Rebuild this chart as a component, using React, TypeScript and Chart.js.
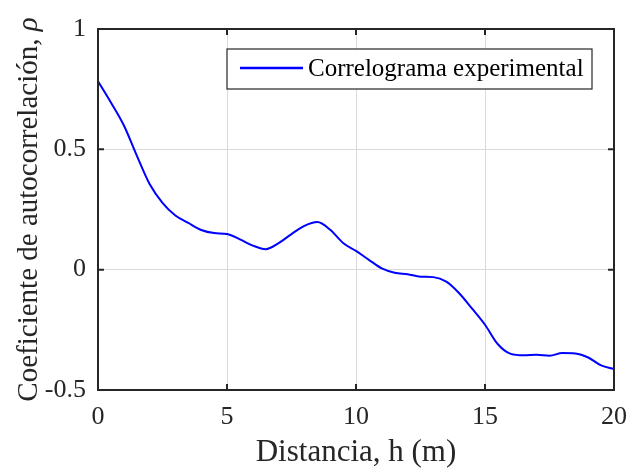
import React, { useEffect, useRef } from "react";
import { Chart, registerables } from "chart.js";

Chart.register(...registerables);

const distances = [0, 0.5, 1, 1.5, 2, 2.5, 3, 3.5, 4, 4.5, 5, 5.5, 6, 6.5, 7, 7.5, 8, 8.5, 9, 9.5, 10, 10.5, 11, 11.5, 12, 12.5, 13, 13.5, 14, 14.5, 15, 15.5, 16, 16.5, 17, 17.5, 18, 18.5, 19, 19.5, 20];
const correlation = [0.783, 0.695, 0.6, 0.475, 0.356, 0.278, 0.225, 0.194, 0.165, 0.152, 0.148, 0.126, 0.1, 0.085, 0.11, 0.148, 0.182, 0.198, 0.166, 0.111, 0.078, 0.041, 0.005, -0.013, -0.019, -0.029, -0.031, -0.05, -0.098, -0.162, -0.229, -0.31, -0.35, -0.356, -0.354, -0.358, -0.346, -0.348, -0.365, -0.398, -0.413];
const xTicks = [0, 5, 10, 15, 20];
const yTicks = [-0.5, 0, 0.5, 1];
const seriesLabel = "Correlograma experimental";
const xTitle = "Distancia, h (m)";
const yTitleMain = "Coeficiente de autocorrelación, ";
const yTitleSymbol = "ρ";

const FONT = "'Liberation Serif', 'Times New Roman', serif";
const AXIS = "#262626";

const decorPlugin = {
  id: "decor",
  afterDatasetsDraw(chart: any) {
    const { ctx, chartArea } = chart;
    const { left, right, top, bottom } = chartArea;
    const xs = chart.scales.x;
    const ys = chart.scales.y;
    ctx.save();
    // box
    ctx.strokeStyle = AXIS;
    ctx.lineWidth = 2;
    ctx.strokeRect(left, top, right - left, bottom - top);
    // inward ticks
    const tl = 6;
    ctx.beginPath();
    xTicks.forEach((v) => {
      const px = xs.getPixelForValue(v);
      ctx.moveTo(px, bottom);
      ctx.lineTo(px, bottom - tl);
      ctx.moveTo(px, top);
      ctx.lineTo(px, top + tl);
    });
    yTicks.forEach((v) => {
      const py = ys.getPixelForValue(v);
      ctx.moveTo(left, py);
      ctx.lineTo(left + tl, py);
      ctx.moveTo(right, py);
      ctx.lineTo(right - tl, py);
    });
    ctx.stroke();

    // legend
    const lx = 227, ly = 49, lw = 365, lh = 40;
    ctx.fillStyle = "#ffffff";
    ctx.fillRect(lx, ly, lw, lh);
    ctx.strokeStyle = AXIS;
    ctx.lineWidth = 1.2;
    ctx.strokeRect(lx, ly, lw, lh);
    const ds = chart.data.datasets[0];
    ctx.strokeStyle = ds.borderColor;
    ctx.lineWidth = 2.5;
    ctx.beginPath();
    ctx.moveTo(lx + 13, ly + 19);
    ctx.lineTo(lx + 76, ly + 19);
    ctx.stroke();
    ctx.fillStyle = "#000000";
    ctx.font = `25px ${FONT}`;
    ctx.textBaseline = "alphabetic";
    ctx.textAlign = "left";
    ctx.fillText(ds.label, lx + 81, ly + 27);

    // x title
    ctx.fillStyle = AXIS;
    ctx.font = `31px ${FONT}`;
    ctx.textAlign = "center";
    ctx.fillText(xTitle, (left + right) / 2, 461);

    // y title
    ctx.translate(37, (top + bottom) / 2);
    ctx.rotate(-Math.PI / 2);
    ctx.font = `29px ${FONT}`;
    const w1 = ctx.measureText(yTitleMain).width;
    ctx.font = `italic 29px ${FONT}`;
    const w2 = ctx.measureText(yTitleSymbol).width;
    const start = -(w1 + w2) / 2;
    ctx.textAlign = "left";
    ctx.font = `29px ${FONT}`;
    ctx.fillText(yTitleMain, start, 0);
    ctx.font = `italic 29px ${FONT}`;
    ctx.fillText(yTitleSymbol, start + w1, 0);
    ctx.restore();
  },
};

export default function App() {
  const ref = useRef<HTMLCanvasElement>(null);
  useEffect(() => {
    document.body.style.margin = "0";
    const chart = new Chart(ref.current as HTMLCanvasElement, {
      type: "line",
      data: {
        datasets: [
          {
            label: seriesLabel,
            data: distances.map((d, i) => ({ x: d, y: correlation[i] })),
            borderColor: "#0000ff",
            borderWidth: 2,
            pointRadius: 0,
            cubicInterpolationMode: "monotone",
            fill: false,
          },
        ],
      },
      options: {
        animation: false,
        responsive: false,
        devicePixelRatio: 1,
        layout: { padding: { top: 29, right: 12, left: 0, bottom: 0 } },
        plugins: { legend: { display: false }, tooltip: { enabled: false } },
        scales: {
          x: {
            type: "linear",
            min: 0,
            max: 20,
            afterBuildTicks: (s: any) => {
              s.ticks = xTicks.map((v) => ({ value: v }));
            },
            afterFit: (s: any) => {
              s.height = 78;
              s.paddingLeft = 0;
              s.paddingRight = 0;
            },
            grid: { color: "#dadada", lineWidth: 1, drawTicks: false },
            border: { display: false },
            ticks: {
              color: AXIS,
              font: { family: FONT, size: 26 },
              padding: 12,
              maxRotation: 0,
              callback: (v: any) => String(v),
            },
          },
          y: {
            type: "linear",
            min: -0.5,
            max: 1,
            afterBuildTicks: (s: any) => {
              s.ticks = yTicks.map((v) => ({ value: v }));
            },
            afterFit: (s: any) => {
              s.width = 98;
              s.paddingTop = 0;
              s.paddingBottom = 0;
            },
            grid: { color: "#dadada", lineWidth: 1, drawTicks: false },
            border: { display: false },
            ticks: {
              color: AXIS,
              font: { family: FONT, size: 26 },
              padding: 12,
              callback: (v: any) => String(v),
            },
          },
        },
      },
      plugins: [decorPlugin],
    } as any);
    return () => chart.destroy();
  }, []);
  return (
    <div style={{ width: 626, height: 468 }}>
      <canvas ref={ref} width={626} height={468} style={{ width: 626, height: 468, display: "block" }} />
    </div>
  );
}
